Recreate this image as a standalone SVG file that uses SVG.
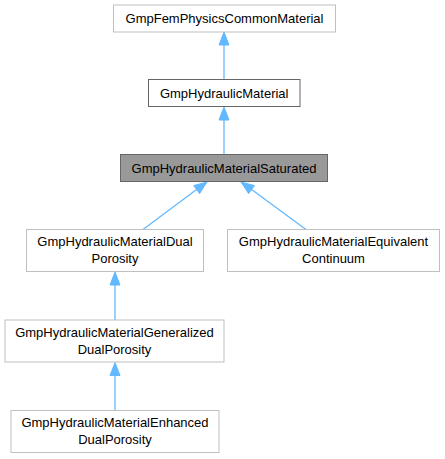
<svg xmlns="http://www.w3.org/2000/svg" width="445" height="459" viewBox="0 0 445 459">
<style>
.bg{fill:#ffffff}
.n rect{fill:#ffffff;stroke:#bfbfbf;stroke-width:1}
.n.doc rect{stroke:#666666}
.n.cur rect{fill:#999999;stroke:#666666}
.n text{font-family:"Liberation Sans",Arial,sans-serif;font-size:13px;fill:#000000;text-anchor:middle}
.e line{stroke:#63b8ff;stroke-width:1.3}
.e polygon{fill:#63b8ff;stroke:#63b8ff;stroke-width:1}
</style>
<rect class="bg" x="0" y="0" width="445" height="459"/>
<g id="connectors" class="e">
  <line x1="224" y1="79.5" x2="224" y2="45"/>
  <polygon points="224,32 229,45 219,45"/>
  <line x1="224" y1="154.5" x2="224" y2="120"/>
  <polygon points="224,107 229,120 219,120"/>
  <line x1="143" y1="229.5" x2="196.6" y2="189.6"/>
  <polygon points="207,182 199.6,193.6 193.6,185.6"/>
  <line x1="306" y1="229.5" x2="251.6" y2="189.6"/>
  <polygon points="241,182 254.5,185.6 248.6,193.6"/>
  <line x1="115" y1="320" x2="115" y2="285"/>
  <polygon points="115,272 120,285 110,285"/>
  <line x1="115" y1="410.5" x2="115" y2="375.5"/>
  <polygon points="115,362.5 120,375.5 110,375.5"/>
</g>
<g id="node1" class="n">
  <rect x="113.5" y="5" width="222" height="27"/>
  <text x="224.5" y="23">GmpFemPhysicsCommonMaterial</text>
</g>
<g id="node2" class="n doc">
  <rect x="148.5" y="79.5" width="151.5" height="27"/>
  <text x="224.2" y="97.5">GmpHydraulicMaterial</text>
</g>
<g id="node3" class="n cur">
  <rect x="120.5" y="154.5" width="207" height="27"/>
  <text x="224" y="172.5">GmpHydraulicMaterialSaturated</text>
</g>
<g id="node4" class="n">
  <rect x="26.5" y="229.5" width="177" height="42"/>
  <text x="115" y="246">GmpHydraulicMaterialDual</text>
  <text x="115" y="262.5">Porosity</text>
</g>
<g id="node5" class="n">
  <rect x="227.5" y="229.5" width="212" height="42"/>
  <text x="333.5" y="246">GmpHydraulicMaterialEquivalent</text>
  <text x="333.5" y="262.5">Continuum</text>
</g>
<g id="node6" class="n">
  <rect x="5" y="320" width="219" height="42"/>
  <text x="114.5" y="337">GmpHydraulicMaterialGeneralized</text>
  <text x="114.5" y="353.5">DualPorosity</text>
</g>
<g id="node7" class="n">
  <rect x="11" y="410.5" width="208" height="42"/>
  <text x="115" y="427">GmpHydraulicMaterialEnhanced</text>
  <text x="115" y="443.5">DualPorosity</text>
</g>
</svg>
